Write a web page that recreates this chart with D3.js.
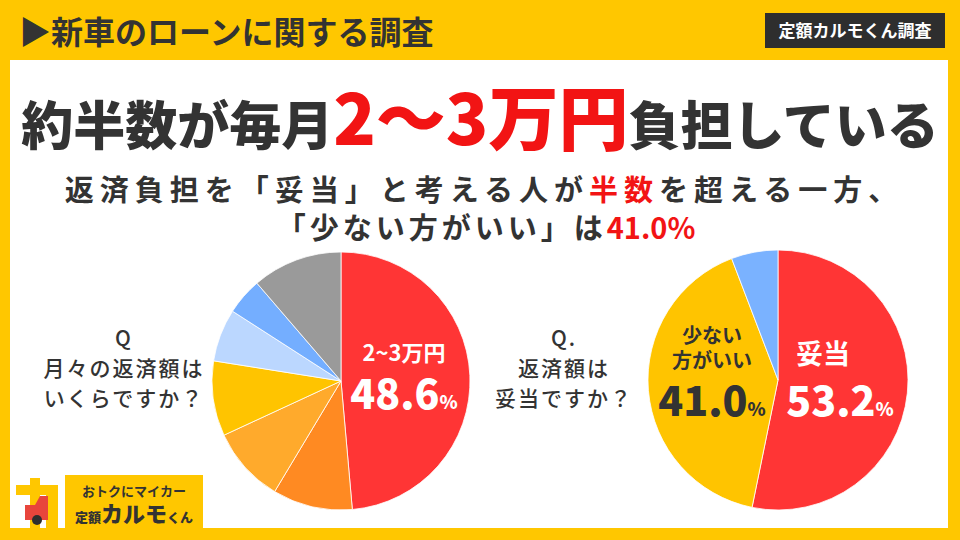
<!DOCTYPE html>
<html>
<head>
<meta charset="utf-8">
<script src="https://cdn.jsdelivr.net/npm/d3@7"></script>
<style>
  body { margin: 0; background: #FFC700; }
  svg { display: block; font-family: "Noto Sans CJK JP", "Noto Sans", sans-serif; }
</style>
</head>
<body>
<div class="container"></div>
<script>
// 月々の返済額 (%), 時計回り
var monthCats = ['2~3万円', '3~4万円', '1~2万円', '4~5万円', '1万円未満', '5万円以上', 'その他'];
var monthVals = [48.6, 10.0, 9.5, 9.4, 6.6, 4.6, 11.3];
var monthColors = ['#FF3535', '#FF8A22', '#FFAA2C', '#FFC400', '#BBD7FF', '#74AEFF', '#9A9A9A'];

// 返済額は妥当か (%)
var fairCats = ['妥当', '少ない方がいい', '多くてもいい'];
var fairVals = [53.2, 41.0, 5.8];
var fairColors = ['#FF3535', '#FFC400', '#7AB2FF'];

var W = 960, H = 540;
var dark = '#333333';
var red = '#F21414';

var svg = d3.select('.container')
    .append('svg')
    .attr('width', W)
    .attr('height', H);

// 背景
svg.append('rect').attr('width', W).attr('height', H).style('fill', '#FFC700');
svg.append('rect')
    .attr('x', 10).attr('y', 60)
    .attr('width', 938).attr('height', 468)
    .style('fill', '#fff');

// ヘッダー
svg.append('text')
    .attr('x', 19).attr('y', 44)
    .text('▶新車のローンに関する調査')
    .style('font-size', '32px')
    .style('font-weight', 700)
    .style('fill', dark);

svg.append('rect')
    .attr('x', 765).attr('y', 13)
    .attr('width', 180).attr('height', 35)
    .style('fill', '#2E2E2E');
svg.append('text')
    .attr('x', 855).attr('y', 37)
    .attr('text-anchor', 'middle')
    .text('定額カルモくん調査')
    .style('font-size', '17px')
    .style('font-weight', 700)
    .style('fill', '#fff');

// タイトル
var title = svg.append('text')
    .attr('x', 480).attr('y', 145)
    .attr('text-anchor', 'middle')
    .style('font-weight', 900)
    .style('fill', dark);
title.append('tspan').text('約半数が毎月').style('font-size', '52px');
title.append('tspan').text('2～3万円').style('font-size', '70px').style('fill', red);
title.append('tspan').text('負担している').style('font-size', '52px');

var sub1 = svg.append('text')
    .attr('x', 484).attr('y', 201)
    .attr('text-anchor', 'middle')
    .style('font-size', '29px')
    .style('font-weight', 700)
    .style('letter-spacing', '6px')
    .style('fill', dark);
sub1.append('tspan').text('返済負担を「妥当」と考える人が');
sub1.append('tspan').text('半数').style('fill', red);
sub1.append('tspan').text('を超える一方、');

var sub2 = svg.append('text')
    .attr('x', 486).attr('y', 239)
    .attr('text-anchor', 'middle')
    .style('font-size', '29px')
    .style('font-weight', 700)
    .style('letter-spacing', '4px')
    .style('fill', dark);
sub2.append('tspan').text('「少ない方がいい」は');
sub2.append('tspan').text('41.0%').style('fill', red).style('letter-spacing', '0px');

// 設問
function question(x, lines) {
    svg.append('g')
        .selectAll('text')
        .data(lines)
        .enter()
        .append('text')
        .attr('x', x)
        .attr('y', (d, i) => 346 + i * 30)
        .attr('text-anchor', 'middle')
        .text(d => d)
        .style('font-size', '21px')
        .style('font-weight', 500)
        .style('letter-spacing', '2px')
        .style('fill', dark);
}
question(124, ['Q', '月々の返済額は', 'いくらですか？']);
question(564, ['Q.', '返済額は', '妥当ですか？']);

// 円グラフ
var pie = d3.pie().sort(null).value(d => d);

function drawPie(cx, cy, r, vals, colors) {
    var arc = d3.arc().innerRadius(0).outerRadius(r);
    svg.append('g')
        .attr('transform', 'translate(' + cx + ',' + cy + ')')
        .selectAll('path')
        .data(pie(vals))
        .enter()
        .append('path')
        .attr('d', arc)
        .style('fill', (d, i) => colors[i])
        .style('stroke', '#fff')
        .style('stroke-width', 0.8);
}
drawPie(341, 381, 129, monthVals, monthColors);
drawPie(778, 380, 130, fairVals, fairColors);

function valueLabel(x, y, v, size, color) {
    var t = svg.append('text')
        .attr('x', x).attr('y', y)
        .attr('text-anchor', 'middle')
        .style('font-weight', 900)
        .style('fill', color);
    t.append('tspan').text(v.toFixed(1)).style('font-size', size + 'px');
    t.append('tspan').text('%').style('font-size', (size * 0.45) + 'px');
}

// 左の円のラベル
svg.append('text')
    .attr('x', 404).attr('y', 361)
    .attr('text-anchor', 'middle')
    .text(monthCats[0])
    .style('font-size', '22px')
    .style('font-weight', 700)
    .style('fill', '#fff');
valueLabel(404, 409, monthVals[0], 41, '#fff');

// 右の円のラベル
svg.append('text')
    .attr('x', 823).attr('y', 364)
    .attr('text-anchor', 'middle')
    .text(fairCats[0])
    .style('font-size', '27px')
    .style('font-weight', 700)
    .style('fill', '#fff');
valueLabel(840, 416, fairVals[0], 41, '#fff');

svg.append('text')
    .attr('x', 712).attr('y', 343)
    .attr('text-anchor', 'middle')
    .text('少ない')
    .style('font-size', '20px')
    .style('font-weight', 700)
    .style('fill', dark);
svg.append('text')
    .attr('x', 712).attr('y', 368)
    .attr('text-anchor', 'middle')
    .text('方がいい')
    .style('font-size', '20px')
    .style('font-weight', 700)
    .style('fill', dark);
valueLabel(712, 416, fairVals[1], 41, dark);

// ロゴ
svg.append('rect').attr('x', 12).attr('y', 470).attr('width', 50).attr('height', 58).style('fill', '#fff');
svg.append('path')
    .attr('d', 'M16,485 H30 V478 H40 V485 H58 V528 H46 V495 H40 V528 H30 V495 H16 Z')
    .style('fill', '#FFC700');
svg.append('path')
    .attr('d', 'M25,505 H35 L40,496 H48 V520 H25 Z')
    .style('fill', '#E8453C');
svg.append('circle').attr('cx', 37).attr('cy', 520).attr('r', 5).style('fill', '#2E2E2E');

svg.append('rect')
    .attr('x', 65).attr('y', 475)
    .attr('width', 138).attr('height', 53)
    .style('fill', '#FFC700');
svg.append('text')
    .attr('x', 134).attr('y', 496)
    .attr('text-anchor', 'middle')
    .text('おトクにマイカー')
    .style('font-size', '13px')
    .style('font-weight', 700)
    .style('fill', dark);
var logo = svg.append('text')
    .attr('x', 134).attr('y', 522)
    .attr('text-anchor', 'middle')
    .style('font-weight', 900)
    .style('fill', dark);
logo.append('tspan').text('定額').style('font-size', '13px');
logo.append('tspan').text('カルモ').style('font-size', '22px');
logo.append('tspan').text('くん').style('font-size', '13px');
</script>
</body>
</html>
